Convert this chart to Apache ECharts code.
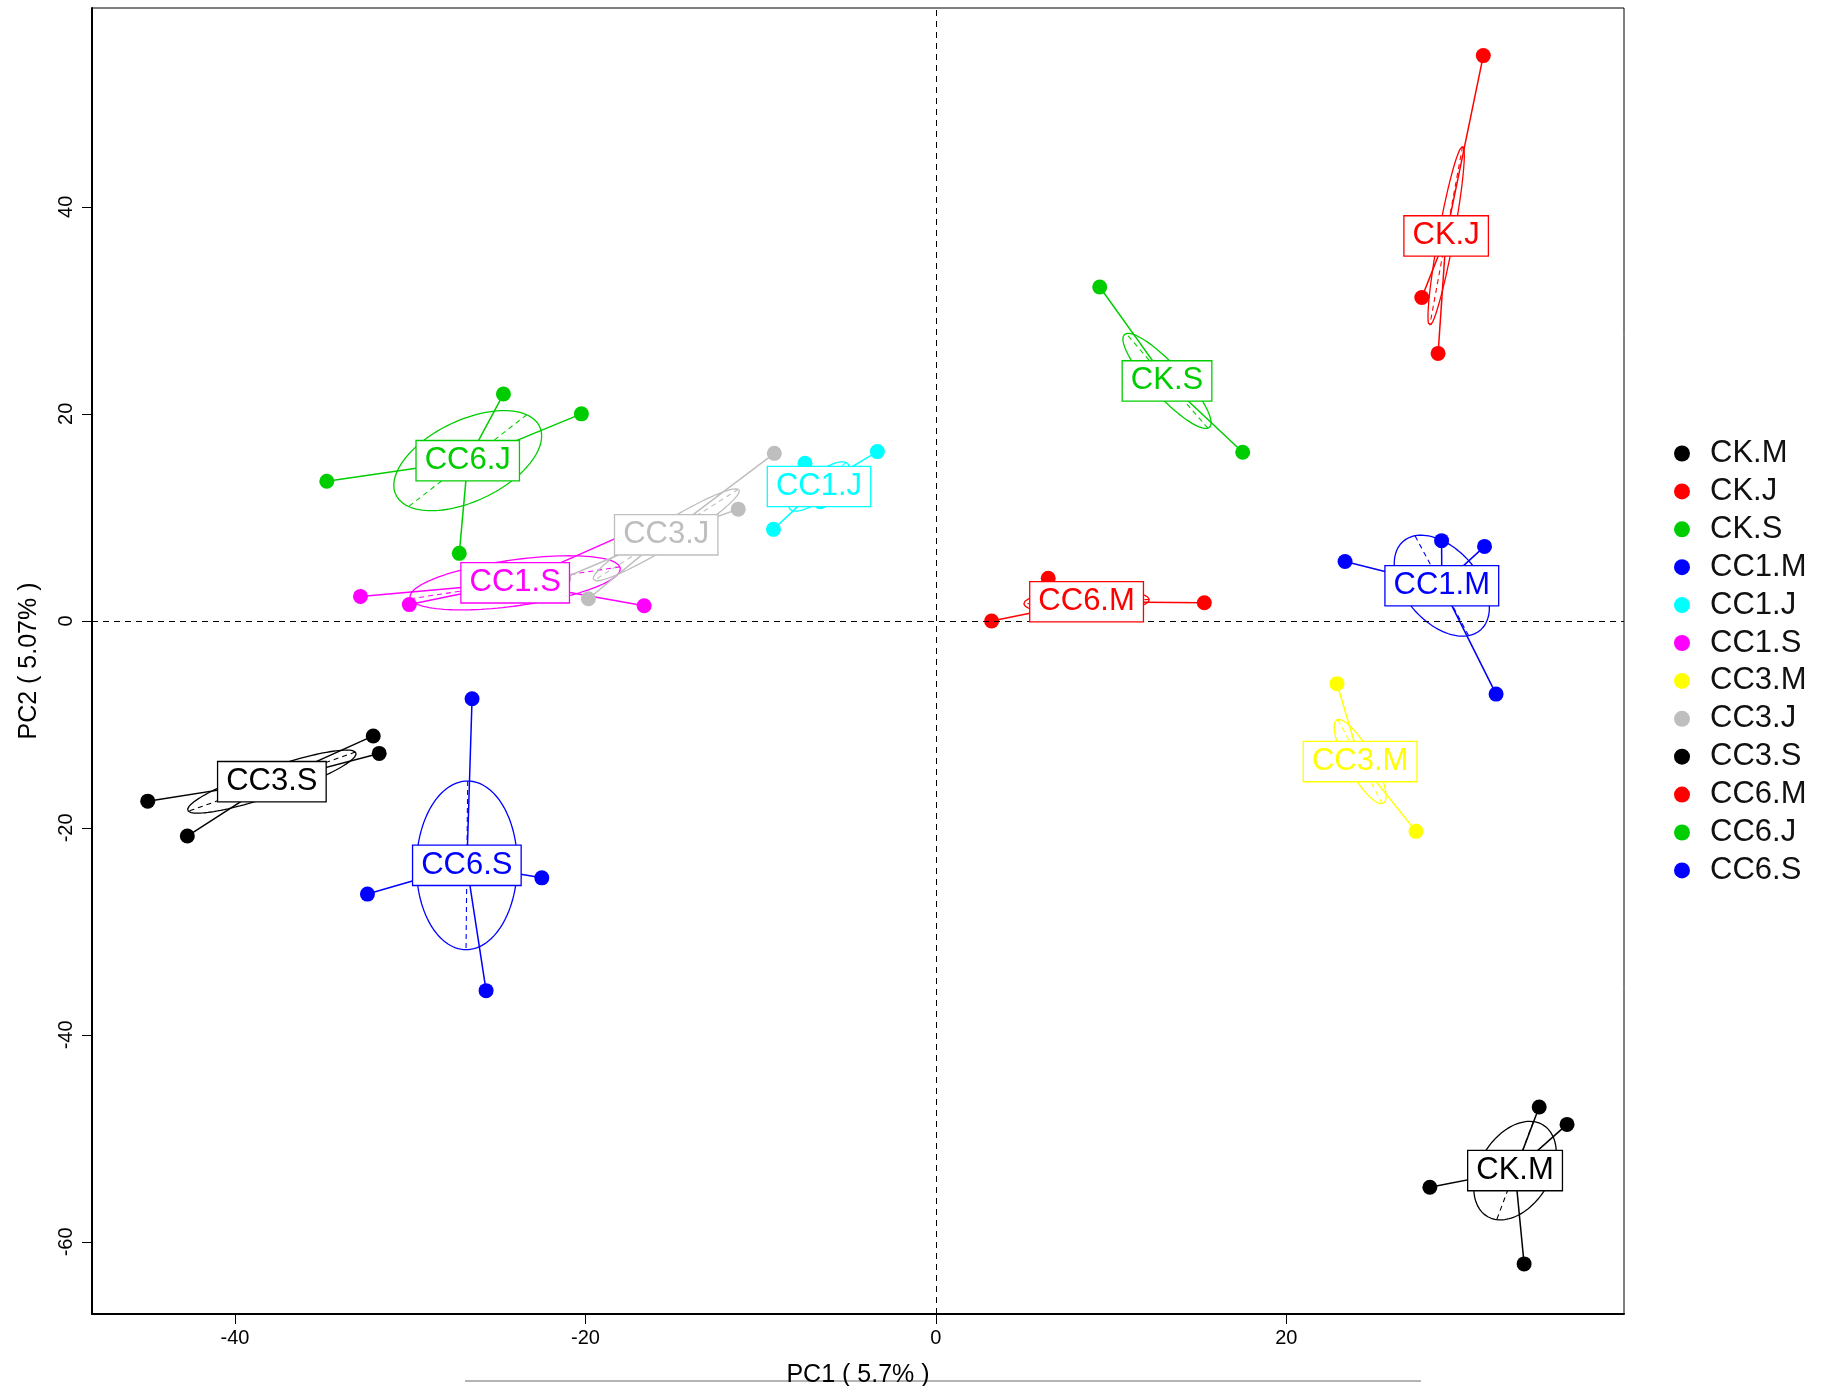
<!DOCTYPE html>
<html>
<head>
<meta charset="utf-8">
<title>PCA class plot</title>
<script src="https://cdn.jsdelivr.net/npm/echarts@6/dist/echarts.min.js"></script>
<style>
  html, body { margin: 0; padding: 0; background: #ffffff; }
  #chart { width: 1823px; height: 1386px; }
</style>
</head>
<body>
<div id="chart"></div>
<script>
// Group names and their colours (R default palette, recycled)
const groupNames = ['CK.M', 'CK.J', 'CK.S', 'CC1.M', 'CC1.J', 'CC1.S',
                    'CC3.M', 'CC3.J', 'CC3.S', 'CC6.M', 'CC6.J', 'CC6.S'];
const groupColors = ['#000000', '#FF0000', '#00CD00', '#0000FF', '#00FFFF', '#FF00FF',
                     '#FFFF00', '#BEBEBE', '#000000', '#FF0000', '#00CD00', '#0000FF'];

// Sample scores on PC1 / PC2, four replicates per group
const ptsCKM  = [[34.43, -46.97], [36.02, -48.65], [28.19, -54.72], [33.57, -62.13]];
const ptsCKJ  = [[31.24, 54.61], [27.73, 31.24], [28.66, 25.84], [28.85, 37.07]];
const ptsCKS  = [[9.35, 32.25], [17.51, 16.29], [11.20, 21.98], [14.70, 22.20]];
const ptsCC1M = [[23.35, 5.73], [28.86, 7.75], [31.31, 7.19], [31.97, -7.08]];
const ptsCC1J = [[-3.34, 16.35], [-9.27, 8.84], [-7.47, 15.22], [-6.60, 11.51]];
const ptsCC1S = [[-32.84, 2.36], [-30.05, 1.57], [-16.65, 1.46], [-16.50, 9.30]];
const ptsCC3M = [[22.89, -6.07], [27.40, -20.34], [23.10, -13.20], [23.45, -14.79]];
const ptsCC3J = [[-9.22, 16.18], [-11.28, 10.79], [-19.83, 2.13], [-21.23, 4.14]];
const ptsCC3S = [[-44.98, -17.42], [-42.72, -20.79], [-32.11, -11.12], [-31.77, -12.81]];
const ptsCC6M = [[3.18, -0.02], [15.32, 1.75], [6.41, 4.11], [9.49, 1.56]];
const ptsCC6J = [[-24.68, 21.91], [-20.23, 20.00], [-34.76, 13.48], [-27.20, 6.52]];
const ptsCC6S = [[-26.47, -7.53], [-22.49, -24.83], [-32.44, -26.40], [-25.67, -35.73]];

const groupPoints = [ptsCKM, ptsCKJ, ptsCKS, ptsCC1M, ptsCC1J, ptsCC1S,
                     ptsCC3M, ptsCC3J, ptsCC3S, ptsCC6M, ptsCC6J, ptsCC6S];

// Axis ticks
const xTicks = [-40, -20, 0, 20];
const yTicks = [-60, -40, -20, 0, 20, 40];
const xTitle = 'PC1 ( 5.7% )';
const yTitle = 'PC2 ( 5.07% )';

const ELLIPSE_COEFF = 0.8;

// Group centroid and inertia ellipse (same construction as ade4's util.ellipse)
function groupGeometry(pts, coeff) {
  const n = pts.length;
  let mx = 0, my = 0;
  pts.forEach(p => { mx += p[0]; my += p[1]; });
  mx /= n; my /= n;
  let vx = 0, vy = 0, cxy = 0;
  pts.forEach(p => {
    const dx = p[0] - mx, dy = p[1] - my;
    vx += dx * dx; vy += dy * dy; cxy += dx * dy;
  });
  vx /= n; vy /= n; cxy /= n;
  const delta = Math.sqrt((vx - vy) * (vx - vy) + 4 * cxy * cxy);
  let l1 = (vx + vy + delta) / 2;
  let l2 = vx + vy - l1;
  l1 = Math.sqrt(Math.max(l1, 0));
  l2 = Math.sqrt(Math.max(l2, 0));
  let a0, b0;
  if (Math.abs(cxy) < 1e-10) {
    if (vx > vy) { a0 = 1; b0 = 0; } else { a0 = 0; b0 = 1; }
  } else {
    a0 = 1; b0 = (l1 * l1 - vx) / cxy;
    const nm = Math.hypot(a0, b0);
    a0 /= nm; b0 /= nm;
  }
  const c11 = coeff * a0 * l1, c12 = -coeff * b0 * l2;
  const c21 = coeff * b0 * l1, c22 = coeff * a0 * l2;
  const ring = [];
  const steps = 120;
  for (let i = 0; i <= steps; i++) {
    const a = 2 * Math.PI * i / steps;
    ring.push([mx + c11 * Math.cos(a) + c12 * Math.sin(a),
               my + c21 * Math.cos(a) + c22 * Math.sin(a)]);
  }
  return {
    center: [mx, my],
    ring: ring,
    axes: [
      [[mx + c11, my + c21], [mx - c11, my - c21]],
      [[mx + c12, my + c22], [mx - c12, my - c22]]
    ]
  };
}

const FONT = "'Liberation Sans', Arial, Helvetica, sans-serif";
const series = [];

groupNames.forEach((name, i) => {
  const color = groupColors[i];
  const pts = groupPoints[i];
  const geo = groupGeometry(pts, ELLIPSE_COEFF);

  // ellipse outline
  series.push({
    name: name + ' ellipse',
    type: 'line',
    data: geo.ring,
    showSymbol: false,
    symbol: 'none',
    smooth: false,
    silent: true,
    z: 2,
    lineStyle: { color: color, width: 1.3, opacity: 1 }
  });
  // ellipse axes (dashed)
  series.push({
    name: name + ' axes',
    type: 'lines',
    coordinateSystem: 'cartesian2d',
    silent: true,
    z: 2,
    data: geo.axes.map(seg => ({ coords: seg })),
    lineStyle: { color: color, width: 1.1, type: [5, 4], opacity: 1 }
  });
  // star: centroid to each sample
  series.push({
    name: name + ' star',
    type: 'lines',
    coordinateSystem: 'cartesian2d',
    silent: true,
    z: 3,
    data: pts.map(p => ({ coords: [geo.center, p] })),
    lineStyle: { color: color, width: 1.5, opacity: 1 }
  });
  // samples
  series.push({
    name: name,
    type: 'scatter',
    data: pts,
    symbol: 'circle',
    symbolSize: 15,
    z: 4,
    itemStyle: { color: color, opacity: 1 }
  });
  // group label at the centroid
  series.push({
    name: name + ' label',
    type: 'scatter',
    data: [geo.center],
    symbolSize: 0,
    silent: true,
    z: 10,
    zlevel: 1,
    itemStyle: { opacity: 1 },
    label: {
      show: true,
      position: 'inside',
      formatter: name,
      color: color,
      opacity: 1,
      fontFamily: FONT,
      fontSize: 31,
      lineHeight: 31,
      backgroundColor: '#ffffff',
      borderColor: color,
      borderWidth: 1.3,
      padding: [5, 8, 3, 8]
    }
  });
});

// dashed zero lines
series[0].markLine = {
  silent: true,
  symbol: ['none', 'none'],
  label: { show: false },
  lineStyle: { color: '#000000', width: 1, type: [6, 5] },
  data: [{ xAxis: 0 }, { yAxis: 0 }]
};

const chart = echarts.init(document.getElementById('chart'), null, { renderer: 'canvas' });
chart.setOption({
  animation: false,
  backgroundColor: '#ffffff',
  grid: {
    left: 92, top: 8, width: 1532, height: 1306,
    containLabel: false,
    outerBoundsMode: 'none',
    show: true, borderColor: '#000000', borderWidth: 1, backgroundColor: 'transparent'
  },
  xAxis: {
    type: 'value',
    min: -48.16, max: 39.27,
    splitLine: { show: false },
    axisLine: { show: true, onZero: false, lineStyle: { color: '#000', width: 2 } },
    axisTick: { show: true, length: 10, customValues: xTicks, lineStyle: { color: '#000', width: 1 } },
    axisLabel: { show: true, customValues: xTicks, margin: 14, color: '#000', fontSize: 20, fontFamily: FONT },
    name: xTitle,
    nameLocation: 'middle',
    nameGap: 49,
    nameTextStyle: { color: '#000', fontSize: 25, fontFamily: FONT }
  },
  yAxis: {
    type: 'value',
    min: -66.97, max: 59.21,
    splitLine: { show: false },
    axisLine: { show: true, onZero: false, lineStyle: { color: '#000', width: 2 } },
    axisTick: { show: true, length: 10, customValues: yTicks, lineStyle: { color: '#000', width: 1 } },
    axisLabel: { show: true, customValues: yTicks, rotate: 90, margin: 16, color: '#000', fontSize: 20, fontFamily: FONT },
    name: yTitle,
    nameLocation: 'middle',
    nameGap: 50,
    nameRotate: 90,
    nameTextStyle: { color: '#000', fontSize: 25, fontFamily: FONT }
  },
  legend: {
    orient: 'vertical',
    left: 1669,
    top: 433,
    padding: 5,
    icon: 'circle',
    itemWidth: 16,
    itemHeight: 16,
    itemGap: 6.9,
    selectedMode: false,
    data: groupNames,
    textStyle: { color: '#111', fontSize: 31, fontFamily: FONT, lineHeight: 29, padding: [0, 0, 0, 15] }
  },
  graphic: [{
    type: 'line',
    silent: true,
    shape: { x1: 465, y1: 1381, x2: 1421, y2: 1381 },
    style: { stroke: '#b4b4b4', lineWidth: 2 }
  }],
  series: series
});
</script>
</body>
</html>
